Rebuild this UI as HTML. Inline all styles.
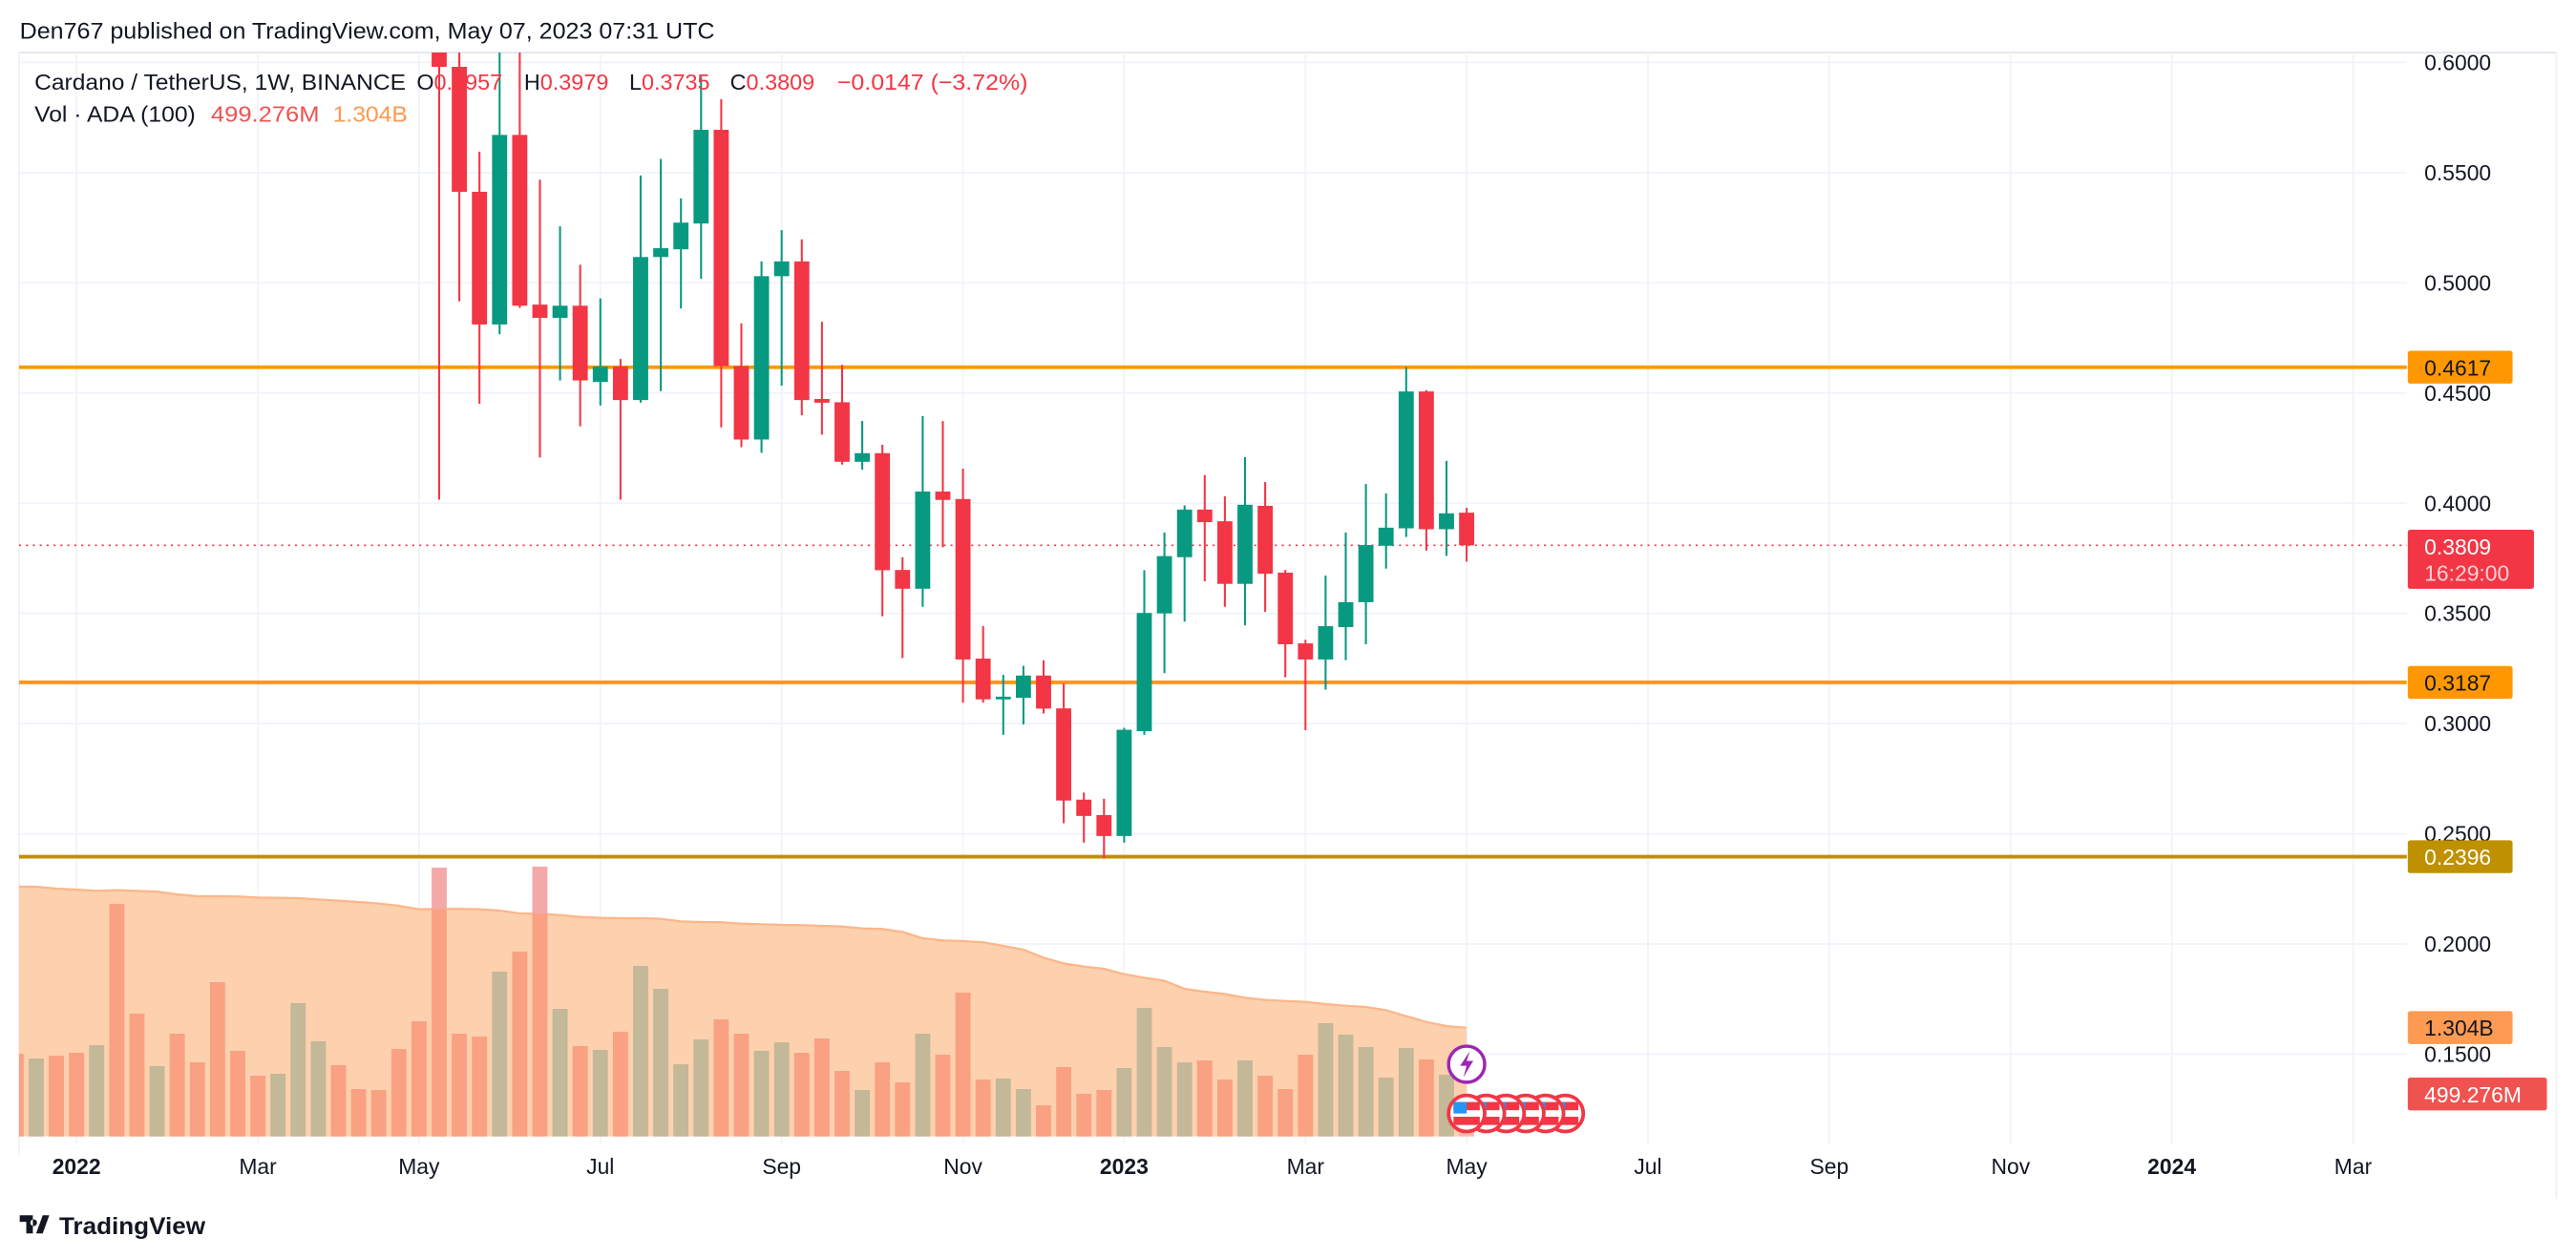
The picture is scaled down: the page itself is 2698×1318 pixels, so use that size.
<!DOCTYPE html>
<html><head><meta charset="utf-8"><title>ADAUSDT 1W</title>
<style>
html,body{margin:0;padding:0;background:#fff;}
svg{display:block;}
text{font-family:"Liberation Sans",sans-serif;}
</style></head>
<body>
<svg id="chart" width="2698" height="1318" viewBox="0 0 1568 766" preserveAspectRatio="none" xmlns="http://www.w3.org/2000/svg">
<defs><clipPath id="plot"><rect x="11.6" y="32" width="1453.4" height="665"/></clipPath></defs>
<rect x="0" y="0" width="1568" height="766" fill="#fff"/>
<text x="12" y="23.5" font-size="14.2" fill="#131722" textLength="423" lengthAdjust="spacingAndGlyphs">Den767 published on TradingView.com, May 07, 2023 07:31 UTC</text>
<line x1="11.6" y1="32" x2="1556" y2="32" stroke="#e0e3eb" stroke-width="1"/>
<line x1="1556" y1="32" x2="1556" y2="730" stroke="#eef0f4" stroke-width="1"/>
<line x1="11.6" y1="32" x2="11.6" y2="703" stroke="#eef0f4" stroke-width="1"/>
<g id="grid"></g>
<g id="volpane" clip-path="url(#plot)"></g>
<g id="levels"></g>
<g id="candles" clip-path="url(#plot)"></g>
<g id="yaxis"></g>
<g id="xaxis"></g>
<g id="legend">
<text x="21" y="54.5" font-size="13.6" fill="#131722" textLength="226" lengthAdjust="spacingAndGlyphs">Cardano / TetherUS, 1W, BINANCE</text>
<text x="253.6" y="54.5" font-size="13.6" fill="#131722">O<tspan fill="#f23645">0.3957</tspan></text>
<text x="319" y="54.5" font-size="13.6" fill="#131722">H<tspan fill="#f23645">0.3979</tspan></text>
<text x="383" y="54.5" font-size="13.6" fill="#131722">L<tspan fill="#f23645">0.3735</tspan></text>
<text x="444.4" y="54.5" font-size="13.6" fill="#131722">C<tspan fill="#f23645">0.3809</tspan></text>
<text x="509.6" y="54.5" font-size="13.6" fill="#f23645" textLength="116" lengthAdjust="spacingAndGlyphs">−0.0147 (−3.72%)</text>
<text x="21" y="74" font-size="13.6" fill="#131722" textLength="98" lengthAdjust="spacingAndGlyphs">Vol · ADA (100)</text>
<text x="128.4" y="74" font-size="13.6" fill="#f05252" textLength="66" lengthAdjust="spacingAndGlyphs">499.276M</text>
<text x="202.6" y="74" font-size="13.6" fill="#ff9850" textLength="45.5" lengthAdjust="spacingAndGlyphs">1.304B</text>
</g>
<g id="events"></g>
<g>
<path d="M12 740 h8 v11 h-4 v-7 h-4 z M22 751 l4 -11 h4 l-4 11 z M20.5 742.5 a2 2 0 1 0 0.01 0" fill="#131722"/>
<text x="36" y="751.5" font-size="14.5" font-weight="bold" fill="#131722" textLength="89" lengthAdjust="spacingAndGlyphs">TradingView</text>
</g>
</svg>
<script>
// ---- price data (weekly candles from 2022-05-09) ----
const candleStart = "2022-05-09";
const opens  = [0.80,0.598,0.5413,0.4811,0.5671,0.4901,0.4841,0.4896,0.455,0.462,0.4468,0.5117,0.5152,0.5269,0.5694,0.4622,0.4289,0.503,0.5097,0.4473,0.4458,0.4188,0.4227,0.3697,0.3612,0.4053,0.4019,0.3295,0.311,0.3117,0.3218,0.3069,0.2655,0.2585,0.249,0.2966,0.35,0.3755,0.3971,0.3918,0.3634,0.3988,0.3685,0.3364,0.3291,0.3438,0.3551,0.3807,0.3886,0.4507,0.3882,0.3957];
const highs  = [0.81,0.64,0.5595,0.61,0.61,0.5468,0.5256,0.5082,0.4929,0.4654,0.5487,0.5562,0.5383,0.5935,0.5833,0.4816,0.5097,0.5239,0.5197,0.4823,0.4628,0.4373,0.4265,0.3755,0.4395,0.4373,0.4157,0.3442,0.3221,0.3262,0.3287,0.3183,0.2687,0.2659,0.2981,0.3696,0.3867,0.399,0.4128,0.4031,0.4209,0.4096,0.3697,0.338,0.3672,0.3867,0.4087,0.4044,0.4618,0.4513,0.4192,0.3979];
const lows   = [0.4016,0.4916,0.4451,0.4767,0.4886,0.4207,0.4557,0.4349,0.4443,0.4016,0.4456,0.4508,0.4883,0.5018,0.4344,0.4254,0.4229,0.4533,0.4399,0.4311,0.4175,0.4152,0.3487,0.3297,0.353,0.38,0.3095,0.3095,0.2949,0.2996,0.3046,0.2548,0.246,0.2389,0.246,0.2949,0.3229,0.3463,0.3646,0.353,0.3446,0.3507,0.321,0.297,0.3154,0.3288,0.336,0.3703,0.3847,0.3785,0.3761,0.3735];
const closes = [0.598,0.5413,0.4811,0.5671,0.4896,0.4841,0.4896,0.4557,0.462,0.4468,0.5117,0.5157,0.5273,0.5694,0.4622,0.4289,0.503,0.5097,0.4468,0.4456,0.4188,0.4227,0.3696,0.3612,0.4053,0.4015,0.3291,0.311,0.3122,0.3218,0.3068,0.2651,0.2581,0.249,0.2972,0.3502,0.376,0.3971,0.3914,0.3634,0.3993,0.368,0.336,0.3291,0.3442,0.3551,0.381,0.3889,0.4507,0.3882,0.3954,0.3809];
// ---- volume data (billions ADA, weekly from 2021-12-13) ----
const volStart = "2021-12-13";
const volumes = [0.991,0.934,0.968,1.002,1.094,2.786,1.471,0.842,1.231,0.888,1.848,1.025,0.728,0.751,1.597,1.14,0.854,0.568,0.556,1.048,1.38,3.22,1.231,1.197,1.974,2.214,3.232,1.528,1.082,1.037,1.254,2.043,1.768,0.865,1.162,1.402,1.231,1.025,1.128,1.002,1.174,0.785,0.556,0.888,0.648,1.231,0.979,1.723,0.682,0.694,0.568,0.373,0.831,0.511,0.556,0.819,1.54,1.071,0.888,0.911,0.682,0.911,0.728,0.568,0.979,1.357,1.22,1.071,0.705,1.059,0.922,0.739,0.499];
const volUp = [0,1,0,0,1,0,0,1,0,0,0,0,0,1,1,1,0,0,0,0,0,0,0,0,1,0,0,1,0,1,0,1,1,1,1,0,0,1,1,0,0,0,1,0,0,1,0,0,0,1,1,0,0,0,0,1,1,1,1,0,0,1,0,0,0,1,1,1,1,1,0,1,0];
const volMA = [2.992,2.992,2.969,2.957,2.942,2.950,2.942,2.931,2.900,2.877,2.877,2.874,2.862,2.858,2.854,2.839,2.824,2.809,2.790,2.763,2.721,2.725,2.725,2.721,2.706,2.672,2.668,2.652,2.630,2.618,2.614,2.614,2.607,2.576,2.569,2.565,2.550,2.542,2.534,2.531,2.523,2.515,2.492,2.485,2.450,2.374,2.348,2.340,2.325,2.283,2.237,2.142,2.073,2.035,2.008,1.944,1.902,1.864,1.768,1.734,1.707,1.662,1.635,1.623,1.612,1.585,1.566,1.551,1.513,1.441,1.372,1.322,1.303];
// ---- axis data ----
const priceTicks = [0.60,0.55,0.50,0.45,0.40,0.35,0.30,0.25,0.20,0.15];
const priceTickLabels = ["0.6000","0.5500","0.5000","0.4500","0.4000","0.3500","0.3000","0.2500","0.2000","0.1500"];
const timeTickDates = ["2022-01-03","2022-03-07","2022-05-02","2022-07-04","2022-09-05","2022-11-07","2023-01-02","2023-03-06","2023-05-01","2023-07-03","2023-09-04","2023-11-06","2024-01-01","2024-03-04"];
const timeTickLabels = ["2022","Mar","May","Jul","Sep","Nov","2023","Mar","May","Jul","Sep","Nov","2024","Mar"];
const timeTickBold = [1,0,0,0,0,0,1,0,0,0,0,0,1,0];
const levelPrices = [0.4617,0.3187,0.2396];
const levelLabels = ["0.4617","0.3187","0.2396"];
const lastPrice = 0.3809;
const lastLabel = "0.3809";
const countdown = "16:29:00";
const maLabel = "1.304B";
const volLabel = "499.276M";

const NS="http://www.w3.org/2000/svg";
const X0=9.8, WEEK=12.263, PLOT_L=11.6, PLOT_R=1465;
const VOL_BASE=692, VOL_PX_PER_B=1/0.01967;
function y(p){return 38+(0.6-p)*1342;}
function weeksFrom(a,b){return (Date.parse(b)-Date.parse(a))/(7*86400000);}
function xDate(d){return X0+weeksFrom(volStart,d)*WEEK;}
function xVol(i){return X0+i*WEEK;}
const candleOffset=weeksFrom(volStart,candleStart);
function xCandle(i){return X0+(candleOffset+i)*WEEK;}
function yVol(v){return VOL_BASE-v*VOL_PX_PER_B;}
function mk(tag,attrs,parent){const e=document.createElementNS(NS,tag);for(const k in attrs)e.setAttribute(k,attrs[k]);parent.appendChild(e);return e;}

const grid=document.getElementById('grid');
priceTicks.forEach(p=>{
  const l=mk('line',{x1:PLOT_L,x2:PLOT_R,y1:y(p),y2:y(p),stroke:'#f0f3fa','stroke-width':1},grid);
  
  
});
timeTickDates.forEach(d=>{
  const x=xDate(d);
  const l=mk('line',{x1:x,x2:x,y1:32,y2:697,stroke:'#f0f3fa','stroke-width':1},grid);
  
  
});

// volume pane
const vp=document.getElementById('volpane');
let pts=[];
volMA.forEach((v,i)=>pts.push(xVol(i)+','+yVol(v)));
const lastX=xVol(volMA.length-1);
const area=mk('polygon',{points:xVol(0)+','+VOL_BASE+' '+pts.join(' ')+' '+lastX+','+VOL_BASE,fill:'#fdd0ae'},vp);


const maLine=mk('polyline',{points:pts.join(' '),fill:'none',stroke:'#fbb78a','stroke-width':1.3},vp);


volumes.forEach((v,i)=>{
  const x=xVol(i)-4.6, w=9.2, top=yVol(v), ma=yVol(volMA[i]);
  const up=volUp[i];
  const last=i===volumes.length-1;
  const g=mk('g',{},vp);
  
  
  if(top<ma){
    mk('rect',{x:x,y:top,width:w,height:ma-top,fill:up?'#97c9c1':'#f5a8a8'},g);
    mk('rect',{x:x,y:ma,width:w,height:VOL_BASE-ma,fill:up?'#c3b897':'#f9a182'},g);
  } else {
    mk('rect',{x:x,y:top,width:w,height:VOL_BASE-top,fill:last?'#fbb6a8':(up?'#c3b897':'#f9a182')},g);
  }
});

// levels
const lv=document.getElementById('levels');
const levelColors=['#ff9800','#ff9800','#bf9000'];
const levelText=['#131722','#131722','#ffffff'];
levelPrices.forEach((p,i)=>{
  const l=mk('line',{x1:PLOT_L,x2:PLOT_R,y1:y(p),y2:y(p),stroke:levelColors[i],'stroke-width':2.2},lv);
  
  
});
const lp=mk('line',{x1:PLOT_L,x2:PLOT_R,y1:y(lastPrice),y2:y(lastPrice),stroke:'#f23645','stroke-width':1,'stroke-dasharray':'1.2 3'},lv);



// candles
const cg=document.getElementById('candles');
opens.forEach((o,i)=>{
  const c=closes[i], x=xCandle(i), up=c>=o, col=up?'#089981':'#f23645';
  const g=mk('g',{},cg);
  
  
  mk('line',{x1:x,x2:x,y1:y(highs[i]),y2:y(lows[i]),stroke:col,'stroke-width':1.2},g);
  const t=y(Math.max(o,c)), b=y(Math.min(o,c));
  mk('rect',{x:x-4.6,y:t,width:9.2,height:Math.max(b-t,1.6),fill:col},g);
});

// y axis
const ya=document.getElementById('yaxis');
priceTicks.forEach((p,i)=>{
  const t=mk('text',{x:1475.7,y:y(p)+4.7,'font-size':13.3,fill:'#131722'},ya);
  t.textContent=priceTickLabels[i];
  
  
});
function badge(cy,h,w,fill,lines,tcol,name){
  const g=mk('g',{},ya);
  
  
  mk('rect',{x:1465.6,y:cy-h/2,width:w,height:h,rx:1.5,fill:fill},g);
  lines.forEach((s,k)=>{
    const t=mk('text',{x:1475.7,y:cy-h/2+15+k*16,'font-size':13.3,fill:k?'#fbd0d4':tcol},g);
    t.textContent=s;
  });
}
levelPrices.forEach((p,i)=>badge(y(p),20,63.8,levelColors[i],[levelLabels[i]],levelText[i],'level-price-badge'));
badge(y(lastPrice)+8.5,36,76.8,'#f23645',[lastLabel,countdown],'#ffffff','last-price-badge');
badge(yVol(1.304),20,63.8,'#ff9a52',[maLabel],'#131722','volume-ma-badge');
badge(yVol(0.499)-0.5,20,84.7,'#ef5350',[volLabel],'#ffffff','volume-value-badge');

// x axis
const xa=document.getElementById('xaxis');
timeTickDates.forEach((d,i)=>{
  const t=mk('text',{x:xDate(d),y:715,'font-size':13.3,fill:'#131722','text-anchor':'middle','font-weight':timeTickBold[i]?'bold':'normal'},xa);
  t.textContent=timeTickLabels[i];
  
  
});

// event markers
const ev=document.getElementById('events');
const lx=xCandle(opens.length-1);
const bolt=mk('g',{},ev);


mk('circle',{cx:lx,cy:648,r:11,fill:'#fff',stroke:'#9c27b0','stroke-width':2},bolt);
mk('path',{d:'M'+(lx+2)+' 640 L'+(lx-4)+' 649 L'+lx+' 649 L'+(lx-2)+' 656 L'+(lx+4)+' 646 L'+lx+' 646 Z',fill:'#9c27b0'},bolt);
for(let k=5;k>=0;k--){
  const cx=lx+k*12;
  const f=mk('g',{},ev);
  
  
  mk('circle',{cx:cx,cy:678,r:11,fill:'#fff',stroke:'#f23645','stroke-width':2.2},f);
  mk('rect',{x:cx-8,y:671,width:16,height:5,fill:'#f23645'},f);
  mk('rect',{x:cx-8,y:680,width:16,height:5,fill:'#f23645'},f);
  mk('rect',{x:cx-8,y:671,width:8,height:7,fill:'#2196f3'},f);
}
</script>
</body></html>
